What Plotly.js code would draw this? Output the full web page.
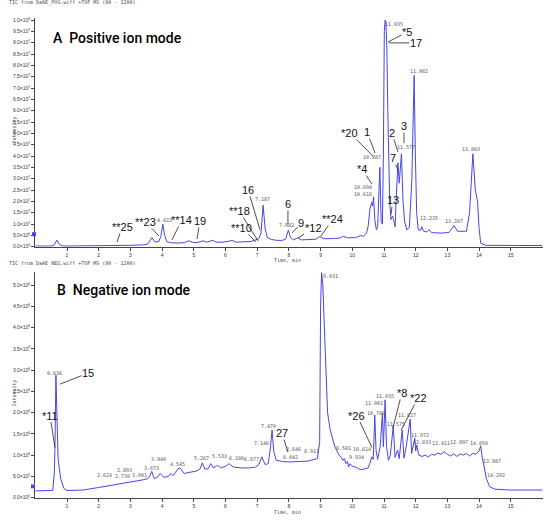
<!DOCTYPE html>
<html>
<head>
<meta charset="utf-8">
<script src="https://cdn.plot.ly/plotly-3.0.1.min.js"></script>
<style>
  html, body { margin: 0; padding: 0; background: #fff; }
  #chart { width: 550px; height: 526px; }
</style>
</head>
<body>
<div id="chart"></div>
<script>
// TIC, positive mode: time (min) and intensity (millions of counts)
const posTime = [0, 0.5, 0.6, 0.68, 0.75, 0.85, 1.0, 1.5, 2.0, 2.5, 3.0, 3.4, 3.55, 3.68, 3.78, 3.9, 3.96, 4.023, 4.08, 4.15,
  4.3, 4.5, 4.7, 4.85, 4.95, 5.1, 5.3, 5.4, 5.6, 5.7, 5.9, 6.1, 6.2, 6.35, 6.6, 6.8, 6.95, 7.05, 7.12, 7.187,
  7.25, 7.32, 7.45, 7.6, 7.8, 7.9, 7.982, 8.05, 8.15, 8.27, 8.4, 8.6, 8.85, 8.98, 9.1, 9.4, 9.6, 9.72, 9.85, 10.1,
  10.28, 10.35, 10.45, 10.5, 10.56, 10.616, 10.64, 10.67, 10.71, 10.76, 10.8, 10.87, 10.91, 10.95, 10.98, 11.01, 11.035, 11.06, 11.09, 11.12,
  11.15, 11.18, 11.22, 11.27, 11.3, 11.35, 11.38, 11.44, 11.48, 11.55, 11.6, 11.65, 11.72, 11.8, 11.88, 11.95, 11.99, 12.03, 12.08, 12.15,
  12.19, 12.25, 12.35, 12.42, 12.5, 12.8, 13.05, 13.207, 13.32, 13.6, 13.7, 13.803, 13.88, 13.95, 14.0, 14.05, 14.2, 15.0, 16.0];
const posInt = [0.3, 0.3, 0.8, 2.9, 1.0, 0.4, 0.3, 0.3, 0.4, 0.5, 0.6, 0.8, 1.2, 4.0, 2.0, 2.4, 4.5, 10.0, 5.0, 2.2,
  1.7, 1.6, 1.8, 2.6, 1.9, 1.8, 2.6, 2.0, 2.8, 2.0, 2.0, 2.4, 2.8, 2.0, 2.1, 2.3, 3.0, 3.5, 6.0, 18.3,
  8.0, 4.0, 3.2, 2.8, 2.8, 3.5, 7.3, 4.0, 3.0, 3.9, 3.0, 3.2, 3.3, 4.5, 3.5, 3.6, 3.8, 4.6, 3.9, 4.0,
  5.0, 4.5, 6.0, 9.0, 17.0, 19.5, 18.0, 22.0, 12.0, 7.4, 9.0, 35.0, 11.0, 10.0, 40.0, 95.0, 100.0, 99.0, 88.0, 60.0,
  35.0, 20.0, 12.0, 13.5, 12.0, 8.8, 20.0, 37.0, 28.0, 41.0, 20.0, 11.0, 7.4, 8.5, 30.0, 75.5, 40.0, 15.0, 7.4, 7.2,
  8.8, 6.8, 6.5, 7.5, 6.2, 6.0, 6.3, 9.3, 6.8, 6.8, 15.0, 41.0, 25.0, 20.0, 8.0, 1.6, 0.6, 0.5, 0.5];

// TIC, negative mode: time (min) and intensity (millions of counts)
const negTime = [0, 0.3, 0.55, 0.6, 0.62, 0.65, 0.68, 0.72, 0.8, 0.9, 1.0, 1.5, 2.0, 2.5, 2.7, 2.9, 3.1, 3.4, 3.55, 3.62,
  3.673, 3.75, 3.85, 3.94, 4.05, 4.2, 4.27, 4.35, 4.5, 4.56, 4.7, 4.9, 5.1, 5.2, 5.267, 5.35, 5.45, 5.533, 5.62, 5.75,
  5.85, 6.0, 6.106, 6.25, 6.5, 6.75, 6.95, 7.05, 7.146, 7.25, 7.35, 7.42, 7.47, 7.52, 7.6, 7.8, 8.0, 8.3, 8.6, 8.9,
  8.97, 9.0, 9.031, 9.07, 9.12, 9.17, 9.22, 9.3, 9.45, 9.581, 9.65, 9.7, 9.75, 9.8, 9.85, 9.88, 9.92, 10.0, 10.1, 10.2,
  10.3, 10.4, 10.5, 10.55, 10.614, 10.66, 10.709, 10.75, 10.8, 10.88, 10.95, 10.98, 11.035, 11.08, 11.14, 11.2, 11.29, 11.35, 11.43, 11.48,
  11.575, 11.63, 11.7, 11.827, 11.87, 11.972, 12.0, 12.033, 12.1, 12.2, 12.3, 12.4, 12.5, 12.6, 12.7, 12.8, 12.9, 13.0, 13.1, 13.2,
  13.3, 13.4, 13.5, 13.6, 13.7, 13.8, 13.9, 14.0, 14.05, 14.1, 14.16, 14.23, 14.33, 14.5, 15.0, 16.0];
const negInt = [0.16, 0.16, 0.17, 0.6, 1.16, 2.88, 1.8, 0.9, 0.45, 0.22, 0.17, 0.18, 0.24, 0.3, 0.33, 0.36, 0.38, 0.42, 0.45, 0.52,
  0.62, 0.45, 0.48, 0.57, 0.48, 0.5, 0.57, 0.52, 0.68, 0.7, 0.57, 0.6, 0.63, 0.68, 0.82, 0.67, 0.68, 0.8, 0.7, 0.76,
  0.7, 0.74, 0.8, 0.72, 0.7, 0.7, 0.72, 0.78, 0.96, 0.78, 0.8, 1.2, 1.59, 1.1, 0.88, 0.85, 0.84, 0.85, 0.86, 0.92,
  1.3, 4.5, 5.29, 5.0, 4.1, 2.8, 2.0, 1.6, 1.2, 1.0, 0.95, 0.88, 0.92, 0.8, 0.85, 0.72, 0.8, 0.74, 0.72, 0.68,
  0.66, 0.68, 0.7, 0.8, 0.96, 0.9, 1.94, 1.1, 0.9, 1.2, 1.98, 1.2, 2.3, 1.2, 0.88, 1.0, 1.68, 0.95, 1.12, 0.92,
  1.59, 0.93, 1.2, 1.85, 1.04, 1.4, 1.1, 1.24, 1.0, 0.97, 1.0, 0.96, 1.02, 1.0, 1.05, 1.02, 1.08, 1.02, 0.98, 1.03,
  0.97, 1.03, 1.0, 1.04, 0.98, 1.04, 1.02, 1.1, 1.22, 0.95, 0.68, 0.45, 0.26, 0.2, 0.18, 0.18];

// compound numbers with leader lines: label, time and intensity the line points at
const posLabelText = ['**25', '**23', '**14', '19', '16', '**18', '**10', '6', '9', '*12', '**24', '*4', '*20', '1', '2', '3', '7', '13', '*5', '17'];
const posLabelTime = [2.58, 3.9, 4.31, 5.1, 7.09, 7.03, 6.96, 7.97, 8.1, 8.29, 9.01, 10.62, 10.65, 10.72, 11.44, 11.63, 11.44, 11.22, 11.13, 11.15];
const posLabelInt = [2.1, 4.7, 3.0, 3.4, 7.4, 2.5, 2.1, 10.0, 6.0, 3.8, 4.7, 27.6, 40.0, 41.3, 41.8, 45.7, 33.8, 14.3, 90.3, 89.9];
const negLabelText = ['15', '*11', '27', '*26', '*8', '*22'];
const negLabelTime = [0.78, 0.62, 7.97, 10.62, 11.28, 11.54];
const negLabelInt = [2.67, 1.18, 1.07, 1.18, 1.64, 1.59];

// retention-time labels printed by the instrument software
const posRtText = ['4.023', '7.187', '7.982', '10.887', '10.694', '10.616', '11.577', '12.235', '11.035', '11.982', '13.207', '13.803'];
const negRtText = ['0.636', '2.624', '2.730', '2.893', '3.001', '3.673', '3.940', '4.545', '5.267', '5.533', '6.106', '6.877', '7.146', '7.470',
  '8.646', '8.042', '8.911', '9.031', '9.581', '9.934', '10.614', '10.709', '11.001', '11.035', '11.575', '11.827', '11.972', '12.033',
  '12.411', '12.997', '14.050', '13.987', '14.292'];

// label placement (pixel offsets of text from the tip; positions of the rt labels)
const posLabelOffset = [[5, -15], [-13, -14], [10, -20], [3, -18], [-12, -40], [-19, -30], [-14, -14], [0, -20], [9, -10], [15, -10],
  [12, -17], [-10, -15], [-23, -23], [-8, -21], [-6, -19], [0, -17], [-5, -12], [2, -14], [19, -10], [27, 0]];
const negLabelOffset = [[28, -11], [-5, -32], [-6, -19], [-15, -32], [9, -35], [17, -32]];
const posRtPos = [[4.07, 11.7], [7.18, 21.0], [7.91, 9.6], [10.62, 39.6], [10.35, 26.5], [10.33, 23.2], [11.68, 43.8], [12.42, 12.5],
  [11.3, 98.1], [12.09, 77.5], [13.21, 11.3], [13.73, 43.1]];
const negRtPos = [[0.61, 2.94], [2.17, 0.53], [2.75, 0.51], [2.8, 0.65], [3.29, 0.53], [3.65, 0.71], [3.9, 0.9], [4.5, 0.79], [5.23, 0.93],
  [5.81, 0.98], [6.35, 0.94], [6.82, 0.9], [7.12, 1.28], [7.37, 1.69], [8.15, 1.15], [8.05, 0.96], [8.7, 1.1], [9.31, 5.21], [9.71, 1.18],
  [10.12, 0.96], [10.32, 1.14], [10.75, 2.0], [10.7, 2.22], [11.02, 2.4], [11.39, 1.73], [11.74, 1.94], [12.14, 1.47], [12.21, 1.32],
  [12.8, 1.29], [13.38, 1.32], [14.01, 1.29], [14.41, 0.86], [14.53, 0.53]];

const lineColor = '#4646e6';
const tickFont = { family: 'Liberation Sans, Arial, sans-serif', size: 5, color: '#333' };

function sci(mant, exp) {
  return mant.toFixed(1) + '×10<sup>' + exp + '</sup>';
}
function posTickText(v) {
  if (v === 0) return sci(0, 0);
  if (v < 10) return sci(v, 6);
  if (v < 100) return sci(v / 10, 7);
  return sci(v / 100, 8);
}
function negTickText(v) {
  if (v === 0) return sci(0, 0);
  if (v < 1) return sci(v * 10, 5);
  return sci(v, 6);
}

const posTicks = [];
for (let v = 0; v <= 100; v += 5) posTicks.push(v);
const negTicks = [];
for (let v = 0; v <= 5.0001; v += 0.5) negTicks.push(+v.toFixed(1));

const xTicks = [];
for (let i = 1; i <= 15; i++) xTicks.push(i);

const xDomain = [35.3 / 550, 542.5 / 550];

const traces = [
  { x: posTime, y: posInt, type: 'scatter', mode: 'lines', line: { color: lineColor, width: 1 }, xaxis: 'x', yaxis: 'y', hoverinfo: 'x+y' },
  { x: negTime, y: negInt, type: 'scatter', mode: 'lines', line: { color: lineColor, width: 1 }, xaxis: 'x2', yaxis: 'y2', hoverinfo: 'x+y' }
];

const axisCommon = {
  showgrid: false, zeroline: false, showline: true, linecolor: '#444', linewidth: 1,
  ticks: 'outside', ticklen: 3, tickwidth: 1, tickcolor: '#444', tickfont: tickFont
};

const annotations = [];

function addLeaders(texts, times, ints, offsets, xr, yr) {
  texts.forEach((t, i) => {
    annotations.push({
      text: t, x: times[i], y: ints[i], xref: xr, yref: yr,
      ax: offsets[i][0], ay: offsets[i][1],
      showarrow: true, arrowhead: 0, arrowwidth: 0.8, arrowcolor: '#222',
      font: { family: 'Liberation Sans, Arial, sans-serif', size: 11, color: '#111' },
      borderpad: 0
    });
  });
}
function addRt(texts, pos, xr, yr) {
  texts.forEach((t, i) => {
    annotations.push({
      text: t, x: pos[i][0], y: pos[i][1], xref: xr, yref: yr, showarrow: false,
      font: { family: 'DejaVu Sans Mono, monospace', size: 5, color: '#555' }
    });
  });
}
addLeaders(posLabelText, posLabelTime, posLabelInt, posLabelOffset, 'x', 'y');
addLeaders(negLabelText, negLabelTime, negLabelInt, negLabelOffset, 'x2', 'y2');
addRt(posRtText, posRtPos, 'x', 'y');
addRt(negRtText, negRtPos, 'x2', 'y2');

const smallFont = { family: 'DejaVu Sans Mono, monospace', size: 5, color: '#444' };
const titleFont = { family: 'Roboto, sans-serif', size: 14, color: '#000', weight: 500 };
const paperText = [
  { text: 'TIC from DaAE_POS.wiff +TOF MS (80 - 1200)', x: 7 / 550, y: 1 - 3 / 526, xanchor: 'left', font: smallFont },
  { text: 'TIC from DaAE_NEG.wiff +TOF MS (80 - 1200)', x: 7 / 550, y: 1 - 263 / 526, xanchor: 'left', font: smallFont },
  { text: 'Time, min', x: 287 / 550, y: 1 - 259.5 / 526, font: smallFont },
  { text: 'Time, min', x: 287 / 550, y: 1 - 512 / 526, font: smallFont },
  { text: 'Intensity', x: 8 / 550, y: 1 - 130 / 526, textangle: -90, font: smallFont },
  { text: 'Intensity', x: 8 / 550, y: 1 - 393 / 526, textangle: -90, font: smallFont },
  { text: 'A  Positive ion mode', x: 51 / 550, y: 1 - 38.5 / 526, xanchor: 'left', font: titleFont },
  { text: 'B  Negative ion mode', x: 55 / 550, y: 1 - 290 / 526, xanchor: 'left', font: titleFont }
];
paperText.forEach(a => annotations.push(Object.assign({ xref: 'paper', yref: 'paper', showarrow: false, yanchor: 'middle' }, a)));

const layout = {
  width: 550, height: 526,
  margin: { l: 0, r: 0, t: 0, b: 0 },
  paper_bgcolor: '#fff', plot_bgcolor: '#fff',
  showlegend: false,
  xaxis: Object.assign({}, axisCommon, { domain: xDomain, range: [0, 16], tickvals: xTicks, anchor: 'y' }),
  yaxis: Object.assign({}, axisCommon, {
    domain: [(526 - 246.7) / 526, (526 - 18) / 526], range: [0, 100.88],
    tickvals: posTicks, ticktext: posTicks.map(posTickText), anchor: 'x'
  }),
  xaxis2: Object.assign({}, axisCommon, { domain: xDomain, range: [0, 16], tickvals: xTicks, anchor: 'y2' }),
  yaxis2: Object.assign({}, axisCommon, {
    domain: [(526 - 497.7) / 526, (526 - 272) / 526], range: [0, 5.306],
    tickvals: negTicks, ticktext: negTicks.map(negTickText), anchor: 'x2'
  }),
  annotations: annotations,
  shapes: [
    { type: 'rect', xref: 'paper', yref: 'y', x0: 32 / 550, x1: 36 / 550, y0: 4.6, y1: 6.4, fillcolor: lineColor, line: { width: 0 } },
    { type: 'rect', xref: 'paper', yref: 'y2', x0: 31 / 550, x1: 35 / 550, y0: 0.22, y1: 0.31, fillcolor: lineColor, line: { width: 0 } }
  ]
};

Plotly.newPlot('chart', traces, layout, { displayModeBar: false, staticPlot: true });
</script>
</body>
</html>
